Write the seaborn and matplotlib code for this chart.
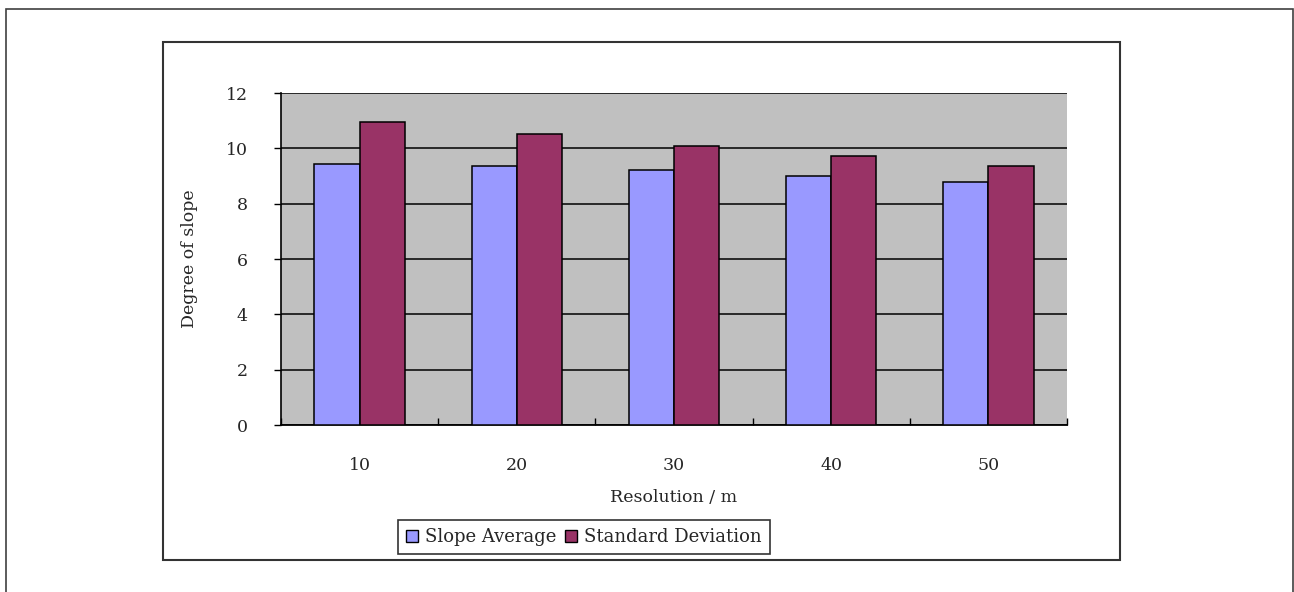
import matplotlib
matplotlib.use("Agg")
import matplotlib.pyplot as plt
from matplotlib.patches import Rectangle, Patch
import seaborn as sns
import pandas as pd
import numpy as np

# Slope statistics at each DEM resolution
resolutions = ["10", "20", "30", "40", "50"]
slope_average = [9.42, 9.36, 9.22, 8.99, 8.77]
standard_deviation = [10.96, 10.53, 10.08, 9.72, 9.36]
series_names = ["Slope Average", "Standard Deviation"]
y_ticks = [0, 2, 4, 6, 8, 10, 12]

df = pd.DataFrame({
    "Resolution": resolutions * 2,
    "Value": slope_average + standard_deviation,
    "Series": [series_names[0]] * len(resolutions) + [series_names[1]] * len(resolutions),
})

sns.set_style("white")
plt.rcParams["font.family"] = ["DejaVu Serif"]

W, H = 1294, 592
fig = plt.figure(figsize=(W / 100, H / 100), dpi=100)

def fx(px):
    return px / W

def fy(py):
    return 1 - py / H

# outer page frame and chart frame
fig.patches.append(Rectangle((fx(6), fy(600)), fx(1293) - fx(6), fy(9) - fy(600),
                             transform=fig.transFigure, fill=False, edgecolor="#404040", lw=1.2))
fig.patches.append(Rectangle((fx(163), fy(560)), fx(1120) - fx(163), fy(42) - fy(560),
                             transform=fig.transFigure, fill=False, edgecolor="#333333", lw=1.5))

ax = fig.add_axes([fx(281), fy(425), fx(1067) - fx(281), fy(93) - fy(425)])
ax.set_facecolor("#C0C0C0")

palette = {series_names[0]: "#9999FF", series_names[1]: "#993366"}
sns.barplot(data=df, x="Resolution", y="Value", hue="Series", palette=palette,
            order=resolutions, hue_order=series_names, width=0.575, gap=0,
            edgecolor="black", linewidth=1.1, saturation=1, ax=ax, legend=False, zorder=3)

ax.set_ylim(0, 12)
ax.set_xlim(-0.5, len(resolutions) - 0.5)
ax.set_yticks(y_ticks)
ax.yaxis.grid(True, color="black", lw=1.1, zorder=1)
ax.set_axisbelow(True)

for side in ["top", "right"]:
    ax.spines[side].set_visible(False)
ax.spines["left"].set_color("black")
ax.spines["left"].set_linewidth(1.2)
ax.spines["bottom"].set_color("black")
ax.spines["bottom"].set_linewidth(1.3)

ax.tick_params(axis="y", direction="out", length=5, width=1, color="black",
               pad=19, labelsize=12.5, left=True)
ax.tick_params(axis="x", which="major", length=0, pad=23, labelsize=12.5)
ax.set_xticks(np.arange(-0.5, len(resolutions) + 0.5, 1), minor=True)
ax.tick_params(axis="x", which="minor", direction="in", length=5, width=1,
               color="black", bottom=True)

ax.set_xlabel("Resolution / m", fontsize=12.5, labelpad=11)
ax.set_ylabel("Degree of slope", fontsize=12.5, labelpad=20)

handles = [Patch(facecolor=palette[s], edgecolor="black", lw=1) for s in series_names]
leg = fig.legend(handles, series_names, ncol=2, loc="center",
                 bbox_to_anchor=(fx(584), fy(537)), frameon=True, fancybox=False,
                 edgecolor="black", fontsize=13, handlelength=0.65, handleheight=0.65,
                 handletextpad=0.4, columnspacing=0.5, borderpad=0.45,
                 borderaxespad=0)
leg.get_frame().set_linewidth(1.2)

fig.savefig("out.png", dpi=100, facecolor="white")
